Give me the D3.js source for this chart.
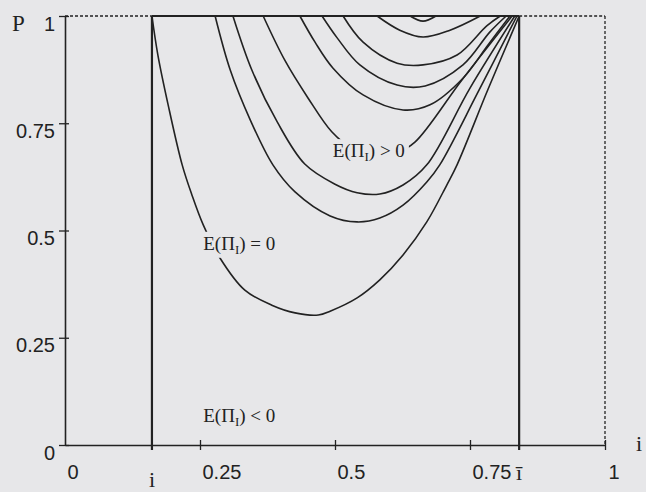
<!DOCTYPE html>
<html>
<head>
<meta charset="utf-8">
<script src="https://cdn.jsdelivr.net/npm/d3@7"></script>
<style>
  html, body { margin: 0; padding: 0; background: #e7e7e9; }
  svg { display: block; }
</style>
</head>
<body>
<svg id="chart" width="646" height="492"></svg>
<script>
// Axis ticks
const xTicks = [0, 0.25, 0.5, 0.75, 1];
const yTicks = [0, 0.25, 0.5, 0.75, 1];

// Interest-rate bounds (lower i, upper ī)
const iLow = 0.161;
const iHigh = 0.841;

// Iso-profit contours, each as [i, P] pairs; levelZero is E(Π) = 0
const levelZero = [[0.161,1],[0.172,0.909],[0.191,0.793],[0.217,0.653],[0.235,0.583],[0.256,0.513],[0.287,0.436],[0.333,0.361],[0.383,0.326],[0.426,0.308],[0.469,0.303],[0.491,0.312],[0.541,0.343],[0.583,0.385],[0.626,0.443],[0.670,0.520],[0.707,0.606],[0.726,0.653],[0.783,0.828],[0.841,1]];
const levelOne = [[0.278,1],[0.306,0.874],[0.343,0.758],[0.385,0.653],[0.426,0.590],[0.491,0.534],[0.541,0.520],[0.583,0.529],[0.626,0.559],[0.670,0.613],[0.694,0.653],[0.765,0.823],[0.837,1]];
const levelTwo = [[0.311,1],[0.346,0.874],[0.393,0.753],[0.444,0.655],[0.500,0.608],[0.541,0.588],[0.583,0.585],[0.626,0.606],[0.670,0.653],[0.750,0.832],[0.833,1]];
const levelThree = [[0.367,1],[0.407,0.897],[0.450,0.809],[0.494,0.730],[0.531,0.692],[0.574,0.676],[0.617,0.683],[0.648,0.706],[0.735,0.851],[0.828,1]];
const levelFour = [[0.435,1],[0.463,0.939],[0.496,0.879],[0.552,0.816],[0.626,0.781],[0.676,0.793],[0.737,0.855],[0.783,0.932],[0.824,1]];
const levelFive = [[0.476,1],[0.504,0.949],[0.546,0.886],[0.615,0.839],[0.667,0.837],[0.737,0.886],[0.787,0.963],[0.817,1]];
const levelSix = [[0.515,1],[0.552,0.939],[0.615,0.890],[0.663,0.886],[0.726,0.909],[0.781,0.977],[0.806,1]];
const levelSeven = [[0.578,1],[0.620,0.967],[0.663,0.951],[0.713,0.967],[0.769,1]];
const levelEight = [[0.639,1],[0.663,0.988],[0.687,1]];

const contours = [levelZero, levelOne, levelTwo, levelThree, levelFour, levelFive, levelSix, levelSeven, levelEight];

// Region labels
const regionSigns = [">", "=", "<"];

const W = 646, H = 492;
const ink = "#222";
const bg = "#e7e7e9";

const svg = d3.select("#chart");
svg.append("rect").attr("width", W).attr("height", H).attr("fill", bg);

const x = d3.scaleLinear().domain([0, 1]).range([65, 605]);
const y = d3.scaleLinear().domain([0, 1]).range([445, 16]);

// Contour curves
const line = d3.line()
  .x(d => x(d[0]))
  .y(d => y(d[1]))
  .curve(d3.curveCatmullRom.alpha(0.5));

svg.append("g")
  .selectAll("path")
  .data(contours)
  .join("path")
  .attr("d", line)
  .attr("fill", "none")
  .attr("stroke", ink)
  .attr("stroke-width", 1.6)
  .attr("stroke-linejoin", "round");

// Region labels with a background patch that interrupts the curve they sit on
const labelPos = [[0.496, 0.671], [0.256, 0.455], [0.256, 0.054]];
const labelG = svg.append("g");
regionSigns.forEach((s, k) => {
  const g = labelG.append("g");
  const t = g.append("text")
    .attr("x", x(labelPos[k][0]))
    .attr("y", y(labelPos[k][1]))
    .attr("font-family", "'Liberation Serif', 'Times New Roman', serif")
    .attr("font-size", 19)
    .attr("fill", ink);
  t.append("tspan").text("E(Π");
  t.append("tspan").attr("dy", 4).attr("font-size", 13).text("I");
  t.append("tspan").attr("dy", -4).text(") " + s + " 0");
  const b = t.node().getBBox();
  g.insert("rect", "text")
    .attr("x", b.x - 4).attr("y", b.y - 1)
    .attr("width", b.width + 8).attr("height", b.height + 2)
    .attr("fill", bg);
});

// Y axis
const yAxis = d3.axisLeft(y).tickValues(yTicks).tickSizeInner(6).tickSizeOuter(0)
  .tickFormat(d3.format("~g"));
const gy = svg.append("g").attr("transform", `translate(${x(0)},0)`).call(yAxis);
gy.select(".domain").attr("stroke", ink).attr("stroke-width", 1.6);
gy.selectAll(".tick line").attr("x1", 4).attr("stroke", ink).attr("stroke-width", 1.3);
gy.selectAll(".tick text")
  .attr("x", -10).attr("dy", "0.7em")
  .attr("font-family", "'Liberation Sans', Arial, sans-serif")
  .attr("font-size", 20).attr("fill", ink);

// X axis
const xAxis = d3.axisBottom(x).tickValues(xTicks).tickSizeInner(5).tickSizeOuter(0)
  .tickFormat(d3.format("~g"));
const gx = svg.append("g").attr("transform", `translate(0,${y(0)})`).call(xAxis);
gx.select(".domain").attr("stroke", ink).attr("stroke-width", 1.6);
gx.selectAll(".tick line").attr("y1", -5).attr("stroke", ink).attr("stroke-width", 1.3)
  .attr("display", d => d === 0 ? "none" : null);
gx.selectAll(".tick text")
  .attr("text-anchor", "start").attr("x", d => d === 1 ? 3 : 2)
  .attr("y", 20).attr("dy", "0.71em")
  .attr("font-family", "'Liberation Sans', Arial, sans-serif")
  .attr("font-size", 20).attr("fill", ink);

// Feasible band boundaries
const frame = svg.append("g").attr("fill", "none").attr("stroke", ink);
[iLow, iHigh].forEach(v => {
  frame.append("line")
    .attr("x1", x(v)).attr("x2", x(v))
    .attr("y1", y(0) + 5).attr("y2", y(1))
    .attr("stroke-width", 2.2);
});
frame.append("line")
  .attr("x1", x(iLow)).attr("x2", x(iHigh))
  .attr("y1", y(1)).attr("y2", y(1))
  .attr("stroke-width", 2);
const dashed = [
  [[0, 1], [iLow, 1]],
  [[iHigh, 1], [1, 1]],
  [[1, 1], [1, 0]]
];
frame.selectAll("path.dash")
  .data(dashed)
  .join("path")
  .attr("class", "dash")
  .attr("d", d3.line().x(d => x(d[0])).y(d => y(d[1])))
  .attr("stroke-width", 1.3)
  .attr("stroke-dasharray", "3,2");

// Axis names and bound labels
const serif = "'Liberation Serif', 'Times New Roman', serif";
svg.append("text").attr("x", 12).attr("y", 31)
  .attr("font-family", serif).attr("font-size", 23).attr("fill", ink).text("P");
svg.append("text").attr("x", 636).attr("y", 451)
  .attr("font-family", serif).attr("font-size", 22).attr("fill", ink).text("i");
svg.append("text").attr("x", x(iLow)).attr("y", 487).attr("text-anchor", "middle")
  .attr("font-family", serif).attr("font-size", 22).attr("fill", ink).text("i");
svg.append("text").attr("x", x(iHigh)).attr("y", 480).attr("text-anchor", "middle")
  .attr("font-family", serif).attr("font-size", 22).attr("fill", ink).text("ī");
</script>
</body>
</html>
